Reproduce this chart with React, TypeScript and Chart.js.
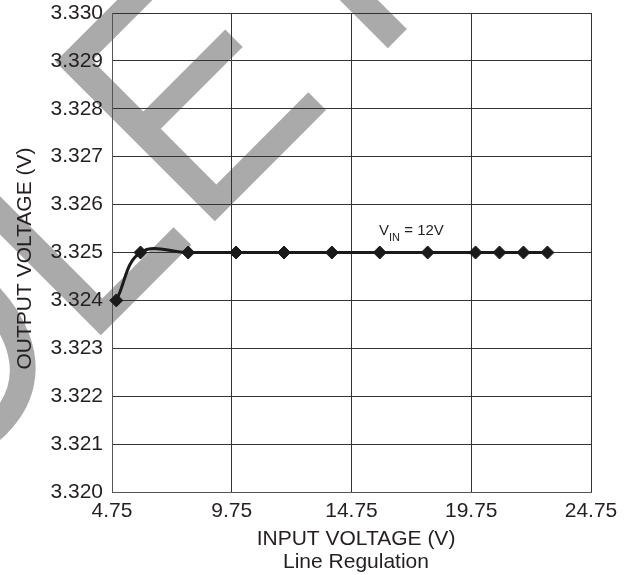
import React, { useEffect, useRef } from 'react';
import { Chart, registerables } from 'chart.js';

Chart.register(...registerables);

// ---- data ----
const VIN = [4.93, 5.94, 7.93, 9.93, 11.93, 13.93, 15.93, 17.93, 19.93, 20.93, 21.93, 22.93];
const VOUT = [3.324, 3.325, 3.325, 3.325, 3.325, 3.325, 3.325, 3.325, 3.325, 3.325, 3.325, 3.325];
const X_TICKS = [4.75, 9.75, 14.75, 19.75, 24.75];
const Y_TICKS = [3.32, 3.321, 3.322, 3.323, 3.324, 3.325, 3.326, 3.327, 3.328, 3.329, 3.33];
const X_TITLE = ['INPUT VOLTAGE (V)', 'Line Regulation'];
const Y_TITLE = 'OUTPUT VOLTAGE (V)';
const WATERMARK = 'OBSOLETE';
const ANNOT_POS = { x: 15.9, y: 3.32537 };
const ANNOT_MAIN = 'V';
const ANNOT_SUB = 'IN';
const ANNOT_REST = ' = 12V';

const FONT = '"Liberation Sans", Arial, Helvetica, sans-serif';
const TEXT = '#231f20';

const watermarkPlugin = {
  id: 'watermark',
  beforeDraw(chart: any) {
    const ctx = chart.ctx;
    ctx.save();
    ctx.fillStyle = '#ffffff';
    ctx.fillRect(0, 0, chart.width, chart.height);
    ctx.translate(100, 336);
    ctx.rotate(-Math.PI / 4);
    ctx.scale(1, 1.13);
    ctx.font = `290px ${FONT}`;
    ctx.textAlign = 'left';
    ctx.textBaseline = 'alphabetic';
    ctx.fillStyle = '#aaaaaa';
    const pre = ctx.measureText(WATERMARK.slice(0, 4)).width;
    const lb = -ctx.measureText('L').actualBoundingBoxLeft;
    ctx.fillText(WATERMARK, -(pre + lb), 0);
    ctx.restore();
  },
};

const textPlugin = {
  id: 'texts',
  afterDraw(chart: any) {
    const ctx = chart.ctx;
    const xs = chart.scales.x;
    const ys = chart.scales.y;
    ctx.save();
    ctx.fillStyle = TEXT;
    // annotation
    const ax = xs.getPixelForValue(ANNOT_POS.x);
    const ay = ys.getPixelForValue(ANNOT_POS.y);
    ctx.textAlign = 'left';
    ctx.textBaseline = 'alphabetic';
    ctx.font = `15px ${FONT}`;
    ctx.fillText(ANNOT_MAIN, ax, ay);
    const w1 = ctx.measureText(ANNOT_MAIN).width;
    ctx.font = `11px ${FONT}`;
    ctx.fillText(ANNOT_SUB, ax + w1, ay + 6);
    const w2 = ctx.measureText(ANNOT_SUB).width;
    ctx.font = `15px ${FONT}`;
    ctx.fillText(ANNOT_REST, ax + w1 + w2, ay);

    // x title
    const area = chart.chartArea;
    ctx.font = `21px ${FONT}`;
    ctx.textAlign = 'center';
    const cx = (area.left + area.right) / 2 + 4.5;
    ctx.fillText(X_TITLE[0], cx, area.bottom + 53);
    ctx.fillText(X_TITLE[1], cx, area.bottom + 76);

    // y title
    ctx.translate(25, (area.top + area.bottom) / 2 + 6);
    ctx.rotate(-Math.PI / 2);
    ctx.textBaseline = 'middle';
    ctx.fillText(Y_TITLE, 0, 0);
    ctx.restore();
  },
};

export default function App() {
  const ref = useRef<HTMLCanvasElement | null>(null);

  useEffect(() => {
    if (!ref.current) return;
    const chart = new Chart(ref.current, {
      type: 'line',
      data: {
        datasets: [
          {
            data: VIN.map((x, i) => ({ x, y: VOUT[i] })),
            borderColor: '#1a1a1a',
            backgroundColor: '#1a1a1a',
            borderWidth: 3,
            tension: 0.4,
            pointStyle: 'rectRot',
            pointRadius: 6.5,
            pointBorderWidth: 1,
            pointBackgroundColor: '#1a1a1a',
            pointBorderColor: '#1a1a1a',
            clip: false as any,
          },
        ],
      },
      options: {
        responsive: false,
        animation: false,
        devicePixelRatio: 1,
        layout: { padding: { top: 13, right: 45, left: 0, bottom: 0 } },
        plugins: {
          legend: { display: false },
          tooltip: { enabled: false },
        },
        scales: {
          x: {
            type: 'linear',
            min: 4.75,
            max: 24.75,
            afterBuildTicks: (s: any) => {
              s.ticks = X_TICKS.map((v) => ({ value: v }));
            },
            afterFit: (s: any) => {
              s.height = 83;
              s.paddingLeft = 0;
              s.paddingRight = 0;
            },
            grid: { color: '#333333', lineWidth: 1, drawTicks: false },
            border: { color: '#555555', width: 1 },
            ticks: {
              padding: 7,
              autoSkip: false,
              maxRotation: 0,
              color: TEXT,
              font: { family: FONT, size: 21 },
              callback: (v: any) => Number(v).toFixed(2),
            },
          },
          y: {
            type: 'linear',
            min: 3.32,
            max: 3.33,
            afterBuildTicks: (s: any) => {
              s.ticks = Y_TICKS.map((v) => ({ value: v }));
            },
            afterFit: (s: any) => {
              s.width = 112;
              s.paddingTop = 0;
              s.paddingBottom = 0;
            },
            grid: { color: '#333333', lineWidth: 1, drawTicks: false },
            border: { color: '#555555', width: 1 },
            ticks: {
              padding: 9,
              autoSkip: false,
              color: TEXT,
              font: { family: FONT, size: 21 },
              callback: (v: any) => Number(v).toFixed(3),
            },
          },
        },
      } as any,
      plugins: [watermarkPlugin, textPlugin],
    });
    return () => chart.destroy();
  }, []);

  return (
    <div style={{ position: 'absolute', left: 0, top: 0, width: 636, height: 575 }}>
      <canvas ref={ref} width={636} height={575} />
    </div>
  );
}
